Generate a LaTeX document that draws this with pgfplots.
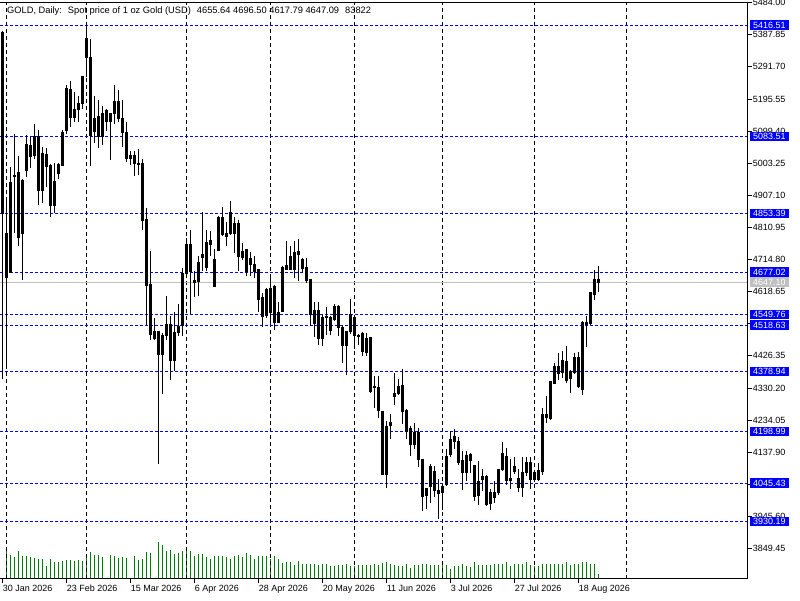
\documentclass[border=0pt]{standalone}
\usepackage{pgfplots}
\pgfplotsset{compat=1.18}
\usepackage{pgfplotstable}
\usepackage{fontspec}
\setmainfont{Liberation Sans}
\definecolor{mtgreen}{RGB}{0,128,0}
\definecolor{mtblue}{RGB}{0,0,255}
\definecolor{mtgray}{RGB}{192,192,192}

\pgfplotstableread{
k O H L C u
0 5396 5400 4356 4854 0
1 4792 4893 4392 4662 0
2 4677 4993 4677 4946 1
3 4965 5092 4795 4963 0
4 4976 5025 4754 4782 0
5 4794 4955 4654 4951 1
6 4982 5088 4963 5060 1
7 5057 5081 4988 5023 0
8 5025 5120 5015 5084 1
9 5084 5102 4877 4921 0
10 4921 5053 4885 5033 1
11 5028 5050 4933 4993 0
12 4996 5000 4842 4878 0
13 4876 5003 4853 4948 1
14 4973 5003 4955 5000 1
15 4996 5102 4996 5094 1
16 5102 5237 5092 5227 1
17 5224 5249 5112 5139 0
18 5139 5217 5127 5164 1
19 5164 5204 5127 5182 1
20 5182 5265 5167 5262 1
21 5376 5413 5262 5321 0
22 5320 5376 4996 5087 0
23 5097 5204 5063 5137 1
24 5142 5194 5050 5084 0
25 5084 5174 5057 5152 1
26 5162 5167 5099 5127 0
27 5127 5152 5012 5152 1
28 5152 5237 5122 5189 1
29 5189 5222 5127 5136 0
30 5137 5192 5052 5094 0
31 5095 5127 5008 5018 0
32 5018 5040 4998 5025 1
33 5025 5040 4965 5003 0
34 5003 5045 4968 4998 0
35 5001 5016 4804 4833 0
36 4836 4868 4520 4637 0
37 4639 4739 4475 4490 0
38 4477 4540 4473 4500 1
39 4500 4500 4101 4430 0
40 4430 4495 4311 4487 1
41 4487 4606 4475 4520 1
42 4520 4547 4355 4413 0
43 4413 4557 4380 4495 1
44 4495 4583 4485 4513 1
45 4517 4689 4487 4672 1
46 4672 4779 4672 4761 1
47 4759 4804 4553 4679 0
48 4652 4679 4603 4646 0
49 4649 4724 4607 4707 1
50 4721 4858 4679 4731 1
51 4692 4804 4679 4767 1
52 4771 4799 4724 4761 0
53 4634 4746 4631 4716 1
54 4742 4845 4742 4842 1
55 4842 4873 4784 4789 0
56 4792 4826 4756 4784 0
57 4792 4890 4789 4855 1
58 4792 4841 4734 4824 1
59 4824 4834 4679 4724 0
60 4722 4764 4712 4739 1
61 4744 4746 4666 4679 0
62 4701 4736 4664 4719 1
63 4699 4724 4659 4679 0
64 4684 4684 4557 4594 0
65 4601 4614 4512 4545 0
66 4546 4629 4541 4624 1
67 4555 4659 4526 4627 1
68 4635 4639 4505 4525 0
69 4526 4589 4525 4556 1
70 4560 4696 4560 4692 1
71 4696 4769 4684 4686 0
72 4686 4754 4684 4724 1
73 4684 4769 4659 4737 1
74 4739 4776 4649 4731 0
75 4716 4719 4674 4689 0
76 4692 4719 4644 4651 0
77 4654 4654 4515 4550 0
78 4523 4589 4483 4563 1
79 4561 4589 4458 4478 0
80 4478 4553 4455 4540 1
81 4545 4572 4490 4540 0
82 4540 4545 4488 4503 0
83 4535 4583 4530 4575 1
84 4575 4580 4485 4512 0
85 4510 4520 4405 4458 0
86 4458 4498 4370 4498 1
87 4498 4597 4493 4549 1
88 4541 4549 4448 4487 0
89 4488 4493 4460 4486 0
90 4493 4498 4427 4438 0
91 4437 4495 4427 4478 1
92 4482 4483 4316 4319 0
93 4335 4365 4269 4333 0
94 4331 4365 4241 4264 0
95 4261 4261 4070 4072 0
96 4070 4231 4030 4216 1
97 4217 4253 4178 4227 1
98 4304 4374 4278 4314 1
99 4314 4356 4310 4334 1
100 4338 4386 4223 4259 0
101 4263 4266 4176 4201 0
102 4208 4216 4126 4161 0
103 4161 4226 4146 4198 1
104 4198 4211 4092 4116 0
105 4116 4118 3962 4004 0
106 4009 4032 3967 4029 1
107 4034 4102 3985 4095 1
108 4080 4097 4003 4022 0
109 4024 4058 3939 4014 0
110 4018 4041 3966 4034 1
111 4041 4146 4036 4124 1
112 4131 4201 4124 4176 1
113 4184 4208 4146 4169 0
114 4169 4183 4099 4108 0
115 4112 4142 4024 4078 0
116 4078 4142 4051 4128 1
117 4131 4136 4076 4113 0
118 4097 4099 3992 4006 0
119 4008 4110 3979 4050 1
120 4057 4088 4022 4066 1
121 4066 4069 3977 3980 0
122 3983 4028 3964 4018 1
123 4003 4052 3987 4016 1
124 4016 4088 4010 4085 1
125 4085 4169 4082 4135 1
126 4124 4151 4041 4054 0
127 4053 4117 4027 4060 1
128 4095 4122 4072 4081 0
129 4060 4088 4020 4033 0
130 4033 4122 4003 4076 1
131 4078 4122 4067 4106 1
132 4108 4122 4027 4057 0
133 4078 4081 4049 4057 0
134 4057 4106 4052 4084 1
135 4081 4270 4069 4250 1
136 4252 4305 4226 4242 0
137 4239 4351 4233 4349 1
138 4343 4406 4341 4394 1
139 4394 4435 4355 4373 0
140 4376 4442 4360 4411 1
141 4409 4455 4346 4353 0
142 4357 4385 4316 4378 1
143 4376 4435 4373 4421 1
144 4421 4439 4331 4336 0
145 4326 4530 4309 4525 1
146 4520 4545 4452 4525 1
147 4522 4619 4520 4617 1
148 4611 4684 4594 4654 1
149 4655.64 4696.50 4617.79 4647.09 0
}\ohlc

\pgfplotstableread{
k v
1 503
2 402
3 369
4 469
5 386
6 386
7 369
8 352
9 335
10 335
11 218
12 335
13 285
14 285
15 302
16 319
17 319
18 302
19 319
20 302
21 419
22 453
23 402
24 402
25 369
27 402
28 386
29 352
30 369
31 352
33 386
34 319
35 335
36 453
37 436
39 620
40 570
41 469
42 486
43 419
44 436
45 469
46 469
47 469
48 386
49 419
50 419
51 369
52 335
53 386
54 386
55 386
56 369
57 335
58 386
59 402
60 369
61 436
62 402
63 335
64 386
65 386
66 386
67 335
68 386
69 335
70 268
71 285
72 285
73 235
74 302
75 251
76 251
77 251
78 251
79 235
80 251
81 251
82 218
83 218
84 235
85 235
86 251
87 218
88 218
89 235
90 235
91 235
92 235
93 251
94 235
95 268
96 285
97 251
98 235
99 218
100 218
101 251
102 184
103 235
104 235
105 251
106 251
107 235
108 235
109 235
110 235
111 235
112 168
113 218
114 218
115 251
116 218
117 201
118 285
119 235
120 235
121 235
122 235
123 251
124 251
125 251
126 285
127 218
128 251
129 251
130 251
131 285
132 235
133 218
134 218
135 251
136 251
137 251
138 251
139 251
140 251
141 285
142 235
143 251
144 251
145 285
146 285
147 251
148 251
149 84
}\vol

\pgfplotsset{
  discard if not/.style 2 args={
    x filter/.code={
      \edef\tempa{\thisrow{#1}}%
      \edef\tempb{#2}%
      \ifx\tempa\tempb\else\def\pgfmathresult{inf}\fi
    }
  },
  chart/.style={
    at={(0pt,21.3pt)}, anchor=south west,
    scale only axis, width=747.7pt, height=576.4pt,
    xmin=-0.675, xmax=186.25,
  },
}

\newcommand{\tf}{\fontsize{9}{10}\selectfont}
\tikzset{lvbox/.style={fill=mtblue, text=white, anchor=west, inner xsep=3pt, inner ysep=1.5pt, font=\tf}}

\begin{document}
\begin{tikzpicture}[x=1pt,y=1pt]
\useasboundingbox (0,0) rectangle (800,600);
\fill[white] (0,0) rectangle (800,600);

% volume
\begin{axis}[chart, ymin=0, ymax=9663, hide axis]
\addplot[ycomb, draw=mtgreen, line width=1pt, mark=none] table[x=k,y=v]{\vol};
\end{axis}

% price
\begin{axis}[chart, ymin=3759, ymax=5485,
  clip mode=individual,
  axis line style={draw=none},
  tick align=outside,
  major tick length=4pt,
  xtick pos=left, ytick pos=right,
  yticklabel pos=right,
  tick style={black, line width=0.8pt},
  xtick={0,16,...,144},
  xticklabels={30 Jan 2026,23 Feb 2026,15 Mar 2026,6 Apr 2026,28 Apr 2026,20 May 2026,11 Jun 2026,3 Jul 2026,27 Jul 2026,18 Aug 2026},
  xticklabel style={anchor=base west, inner sep=0pt, font=\tf, yshift=-9pt, xshift=0pt},
  ytick={3849.45,3945.60,4041.75,4137.90,4234.05,4330.20,4426.35,4522.50,4618.65,4714.80,4810.95,4907.10,5003.25,5099.40,5195.55,5291.70,5387.85,5484.00},
  yticklabels={3849.45,3945.60,,4137.90,4234.05,4330.20,4426.35,,4618.65,4714.80,4810.95,4907.10,5003.25,5099.40,5195.55,5291.70,5387.85,5484.00},
  yticklabel style={anchor=west, inner sep=0pt, font=\tf, xshift=1pt},
]
% vertical grid
\pgfplotsinvokeforeach{1,21,46,67,88,110,133,156}{
  \draw[black, line width=0.8pt, dash pattern=on 4pt off 3pt] (axis cs:#1,3759) -- (axis cs:#1,5485);
}
% levels
\pgfplotsinvokeforeach{5416.51,5083.51,4853.39,4677.02,4549.76,4518.63,4378.94,4198.99,4045.43,3930.19}{
  \draw[mtblue, line width=0.8pt, dash pattern=on 3pt off 2pt] (axis cs:-0.675,#1) -- (axis cs:186.25,#1);
}
\coordinate (la) at (axis cs:186.25,5416.51);
\coordinate (lb) at (axis cs:186.25,5083.51);
\coordinate (lc) at (axis cs:186.25,4853.39);
\coordinate (ld) at (axis cs:186.25,4677.02);
\coordinate (le) at (axis cs:186.25,4549.76);
\coordinate (lf) at (axis cs:186.25,4518.63);
\coordinate (lg) at (axis cs:186.25,4378.94);
\coordinate (lh) at (axis cs:186.25,4198.99);
\coordinate (li) at (axis cs:186.25,4045.43);
\coordinate (lj) at (axis cs:186.25,3930.19);
\draw[mtgray, line width=1pt] (axis cs:-0.675,4647.10) -- (axis cs:186.25,4647.10);
\coordinate (bid) at (axis cs:186.25,4647.10);

% wicks
\addplot[draw=none, no markers, forget plot,
  error bars/.cd, y dir=both, y explicit, error mark=none,
  error bar style={draw=black, solid, line width=1pt}]
  table[x=k, y expr={(\thisrow{H}+\thisrow{L})/2}, y error expr={(\thisrow{H}-\thisrow{L})/2}]{\ohlc};
% bodies
\addplot[draw=none, no markers, forget plot,
  error bars/.cd, y dir=both, y explicit, error mark=none,
  error bar style={draw=black, solid, line width=3pt}]
  table[x=k, y expr={(\thisrow{O}+\thisrow{C})/2}, y error expr={abs(\thisrow{C}-\thisrow{O})/2+1.5}]{\ohlc};
% white interiors
\addplot[draw=none, no markers, forget plot, discard if not={u}{1}, unbounded coords=discard,
  error bars/.cd, y dir=both, y explicit, error mark=none,
  error bar style={draw=white, solid, line width=1pt}]
  table[x=k, y expr={(\thisrow{O}+\thisrow{C})/2}, y error expr={abs(\thisrow{C}-\thisrow{O})/2-1.5}]{\ohlc};
\end{axis}

% frame
\draw[black, line width=1pt] (0,21.3) -- (747.7,21.3) -- (747.7,597.7) -- (0,597.7);

% level boxes
\node[lvbox] at ([xshift=2.3pt]la) {5416.51};
\node[lvbox] at ([xshift=2.3pt]lb) {5083.51};
\node[lvbox] at ([xshift=2.3pt]lc) {4853.39};
\node[lvbox] at ([xshift=2.3pt]ld) {4677.02};
\node[lvbox] at ([xshift=2.3pt]le) {4549.76};
\node[lvbox] at ([xshift=2.3pt]lf) {4518.63};
\node[lvbox] at ([xshift=2.3pt]lg) {4378.94};
\node[lvbox] at ([xshift=2.3pt]lh) {4198.99};
\node[lvbox] at ([xshift=2.3pt]li) {4045.43};
\node[lvbox] at ([xshift=2.3pt]lj) {3930.19};
\node[lvbox, fill=mtgray] at ([xshift=2.3pt]bid) {4647.10};

% header
\node[anchor=base west, inner sep=0pt, font=\fontsize{9.3}{10}\selectfont] at (7,586.7) {GOLD, Daily:\hspace{6pt}Spot price of 1 oz Gold (USD)\hspace{6pt}4655.64 4696.50 4617.79 4647.09\hspace{6pt}83822};
\end{tikzpicture}
\end{document}
